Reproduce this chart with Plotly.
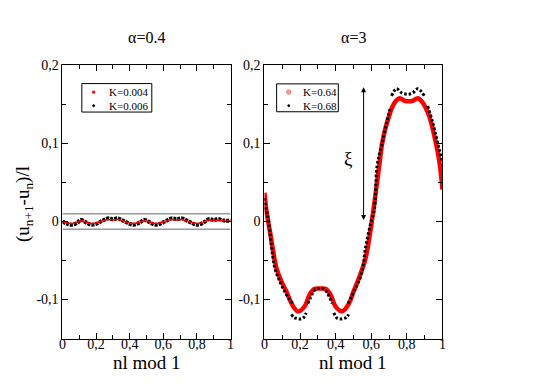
import plotly.graph_objects as go

# left panel, alpha=0.4
xl = [0, 0.03, 0.06, 0.09, 0.11, 0.14, 0.17, 0.20, 0.24, 0.27, 0.30, 0.33, 0.36, 0.40,
      0.43, 0.46, 0.49, 0.52, 0.55, 0.58, 0.62, 0.65, 0.68, 0.71, 0.74, 0.78, 0.81, 0.84,
      0.87, 0.90, 0.93, 0.96, 1.0]
k004 = [0.0, -0.0018, -0.0025, -0.0008, 0.0012, -0.0008, -0.0025, -0.0018, 0.0008, 0.0025,
        0.0018, 0.0025, 0.0008, -0.0018, -0.0025, -0.0008, 0.0012, -0.0008, -0.0025, -0.0018,
        0.0008, 0.0025, 0.0018, 0.0025, 0.0008, -0.0018, -0.0025, -0.0008, 0.0018, 0.0012,
        0.0018, 0.0008, 0.0008]
k006 = [0.0, -0.003, -0.004, -0.0012, 0.002, -0.0012, -0.004, -0.003, 0.0012, 0.004,
        0.003, 0.004, 0.0012, -0.003, -0.004, -0.0012, 0.002, -0.0012, -0.004, -0.003,
        0.0012, 0.004, 0.003, 0.004, 0.0012, -0.003, -0.004, -0.0012, 0.003, 0.002,
        0.003, 0.0012, 0.0012]

# right panel, alpha=3
xr = [0, 0.013, 0.032, 0.05, 0.068, 0.096, 0.124, 0.152, 0.188, 0.225, 0.253, 0.28, 0.3125,
      0.345, 0.372, 0.40, 0.437, 0.475, 0.50, 0.53, 0.567, 0.594, 0.613, 0.632, 0.645, 0.659,
      0.678, 0.696, 0.715, 0.733, 0.76, 0.785, 0.81, 0.835, 0.862, 0.89, 0.917, 0.935, 0.954,
      0.97, 0.985, 1.0]
k064 = [0.037, 0.011, -0.014, -0.039, -0.06, -0.077, -0.09, -0.105, -0.115, -0.109, -0.094,
        -0.0865, -0.086, -0.0865, -0.094, -0.109, -0.115, -0.105, -0.09, -0.073, -0.048,
        -0.014, 0.016, 0.049, 0.072, 0.097, 0.118, 0.132, 0.145, 0.153, 0.158, 0.155, 0.154,
        0.155, 0.158, 0.152, 0.14, 0.128, 0.11, 0.093, 0.073, 0.041]

xb = [0.0, 0.009, 0.022, 0.041, 0.059, 0.087, 0.115, 0.142, 0.16, None,
      0.152, 0.165, 0.179, 0.198, 0.216, 0.235, None,
      0.244, 0.271, 0.29, 0.3125, 0.335, 0.354, 0.381, None,
      0.39, 0.409, 0.427, 0.446, 0.46, 0.473, None,
      0.47, 0.511, 0.548, 0.567, 0.594, 0.618, 0.632, 0.659, 0.687, 0.705, None,
      0.714, 0.742, 0.77, 0.806, 0.834, 0.862, 0.898, None,
      0.917, 0.945, 0.963, 0.982, 1.0]
k068 = [0.03, 0.016, 0.003, -0.035, -0.06, -0.077, -0.09, -0.1, -0.105, None,
        -0.119, -0.123, -0.124, -0.125, -0.124, -0.117, None,
        -0.105, -0.092, -0.0865, -0.086, -0.0865, -0.092, -0.105, None,
        -0.117, -0.124, -0.125, -0.124, -0.123, -0.119, None,
        -0.105, -0.086, -0.065, -0.035, -0.005, 0.016, 0.07, 0.098, 0.127, 0.144, None,
        0.161, 0.17, 0.165, 0.163, 0.165, 0.17, 0.161, None,
        0.148, 0.127, 0.11, 0.092, 0.077]

yvals = [-0.1, 0, 0.1, 0.2]
ytext = ["-0,1", "0", "0,1", "0,2"]
xvals = [0, 0.2, 0.4, 0.6, 0.8, 1]
xtext = ["0", "0,2", "0,4", "0,6", "0,8", "1"]

W, H = 545, 385
serif = "Liberation Serif, Times New Roman, serif"
fig = go.Figure()

# left panel
fig.add_trace(go.Scatter(x=xl, y=k006, mode="lines", line=dict(color="black", width=4, dash="3px,1px", shape="spline"),
                         xaxis="x", yaxis="y", showlegend=False))
fig.add_trace(go.Scatter(x=xl, y=k004, mode="lines", line=dict(color="red", width=1.5, shape="spline"),
                         xaxis="x", yaxis="y", showlegend=False))

# right panel
fig.add_trace(go.Scatter(x=xr, y=k064, mode="lines", line=dict(color="red", width=4.5, shape="spline"),
                         xaxis="x2", yaxis="y2", showlegend=False))
fig.add_trace(go.Scatter(x=xb, y=k068, mode="lines", line=dict(color="black", width=3, dash="2.5px,2px", shape="spline"),
                         xaxis="x2", yaxis="y2", showlegend=False, connectgaps=False))

# reference lines at +-0.01 in the left panel
for yy in [0.01, -0.01]:
    fig.add_shape(type="line", xref="x", yref="y", x0=0, x1=1, y0=yy, y1=yy,
                  line=dict(color="#999999", width=1.5), layer="below")


def px(x):
    return x / W


def py(y):
    return 1 - y / H


# small boxed legends (xmgrace style, tighter than plotly's own legend)
def legend_box(x0, y0, x1, y1, entries):
    fig.add_shape(type="rect", xref="paper", yref="paper", x0=px(x0), x1=px(x1), y0=py(y0), y1=py(y1),
                  line=dict(color="black", width=1), fillcolor="white")
    for (mx, my, r, shape, fill, edge, name, tx) in entries:
        fig.add_shape(type=shape, xref="paper", yref="paper", x0=px(mx - r), x1=px(mx + r),
                      y0=py(my + r), y1=py(my - r), fillcolor=fill, line=dict(color=edge, width=1))
        fig.add_annotation(text=name, x=px(tx), y=py(my), xref="paper", yref="paper", showarrow=False,
                           xanchor="left", yanchor="middle", font=dict(family=serif, size=11, color="black"))


legend_box(79, 78, 150, 107, [
    (91, 86.7, 1.0, "rect", "red", "red", "K=0.004", 105),
    (91, 100.5, 1.0, "circle", "black", "black", "K=0.006", 105),
])
legend_box(276.7, 78.3, 339.3, 106.7, [
    (289, 86.7, 2.2, "circle", "#ff9a9a", "#ff7070", "K=0.64", 301),
    (289, 100.5, 1.0, "circle", "black", "black", "K=0.68", 301),
])

ax_common = dict(showline=True, linecolor="black", linewidth=1, mirror="allticks", ticks="inside",
                 ticklen=6, tickcolor="black", showgrid=False, zeroline=False,
                 tickfont=dict(family=serif, size=14, color="black"))
xa = dict(ax_common, range=[0, 1], tickvals=xvals, ticktext=xtext, ticklabelstandoff=-7,
          minor=dict(ticks="inside", tickvals=[0.1, 0.3, 0.5, 0.7, 0.9], ticklen=4, tickcolor="black"))
ya = dict(ax_common, range=[-0.15, 0.2], tickvals=yvals, ticktext=ytext,
          minor=dict(ticks="inside", tickvals=[-0.05, 0.05, 0.15], ticklen=4, tickcolor="black"))

ydom = [py(337.7), py(59.5)]
fig.update_layout(
    width=W, height=H,
    margin=dict(l=0, r=0, t=0, b=0),
    paper_bgcolor="white", plot_bgcolor="white",
    font=dict(family=serif, color="black"),
    showlegend=False,
    xaxis=dict(xa, domain=[px(59.3), px(230)], anchor="y"),
    yaxis=dict(ya, domain=ydom, anchor="x"),
    xaxis2=dict(xa, domain=[px(264.3), px(445)], anchor="y2"),
    yaxis2=dict(ya, domain=ydom, anchor="x2"),
)


def label(text, x, y, size, angle=0):
    fig.add_annotation(text=text, x=px(x), y=py(y), xref="paper", yref="paper", showarrow=False,
                       xanchor="center", yanchor="middle", textangle=angle,
                       font=dict(family=serif, size=size, color="black"))


label("α=0.4", 144.7, 31, 16)
label("α=3", 354.7, 31, 16)
label("nl mod 1", 144.7, 362, 19)
label("nl mod 1", 354.7, 362, 19)
label("(u<sub>n+1</sub>-u<sub>n</sub>)/l", 21, 201, 19, -90)

fig.add_annotation(text="ξ", x=0.474, y=0.081, xref="x2", yref="y2", showarrow=False, xanchor="center",
                   yanchor="middle", font=dict(family=serif, size=19, color="black"))
fig.add_annotation(x=0.557, y=0.172, ax=0.557, ay=0.0, xref="x2", yref="y2", axref="x2", ayref="y2", text="",
                   showarrow=True, arrowhead=2, startarrowhead=2, arrowside="end+start", arrowwidth=1,
                   arrowsize=1, startarrowsize=1, arrowcolor="black")

# page body has a default 8px margin; drop it so the figure sits at the window origin
fig.write_html("out.html", config={"displayModeBar": False},
               post_script="document.body.style.margin='0px';")
